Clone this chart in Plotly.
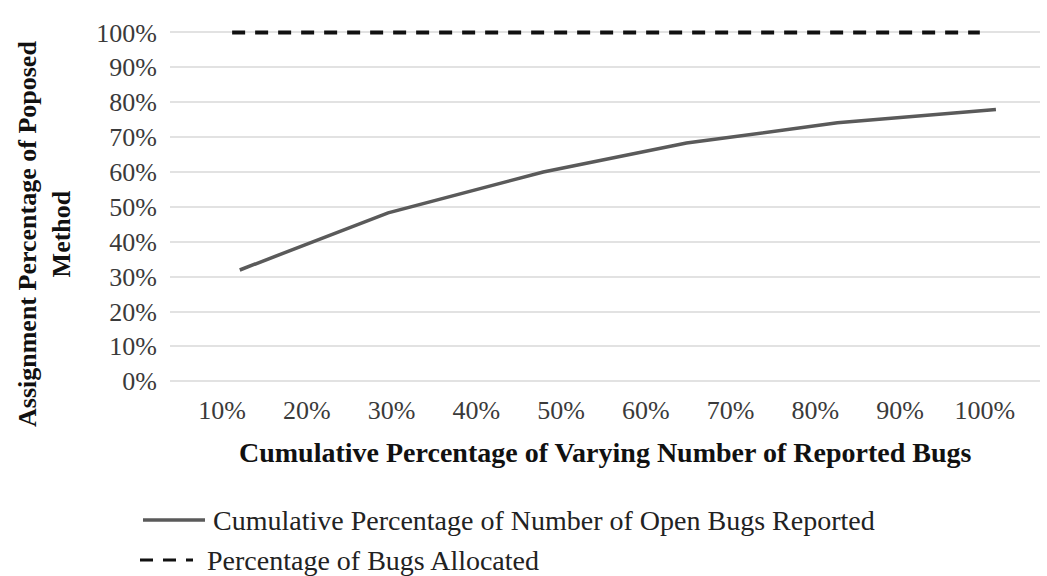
import plotly.graph_objects as go

# Axis categories (cumulative share of reported bugs)
x_tick_vals = [10, 20, 30, 40, 50, 60, 70, 80, 90, 100]
x_tick_text = ["10%", "20%", "30%", "40%", "50%", "60%", "70%", "80%", "90%", "100%"]
y_tick_vals = [0, 10, 20, 30, 40, 50, 60, 70, 80, 90, 100]
y_tick_text = ["0%", "10%", "20%", "30%", "40%", "50%", "60%", "70%", "80%", "90%", "100%"]

# Series: cumulative percentage of open bugs reported
open_bugs_x = [12.1, 29.6, 47.9, 64.8, 82.6, 101.3]
open_bugs_y = [31.9, 48.3, 60.0, 68.3, 74.1, 77.9]

# Series: percentage of bugs allocated
allocated_x = [11.2, 99.4]
allocated_y = [100, 100]

W, H = 1047, 576
M_L, M_R, M_T, M_B = 170, 7, 29, 193
X_RANGE = [3.87, 106.5]
Y_RANGE = [-0.5, 101]

SERIF = "Liberation Serif, Times New Roman, serif"
SOLID_COLOR = "#5a5a5a"
DASH_COLOR = "#111111"


def px_x(p):
    return (p - M_L) / (W - M_L - M_R)


def px_y(p):
    return (H - M_B - p) / (H - M_T - M_B)


fig = go.Figure()

fig.add_trace(go.Scatter(
    x=open_bugs_x, y=open_bugs_y, mode="lines",
    name="Cumulative Percentage of Number of Open Bugs Reported",
    line=dict(color=SOLID_COLOR, width=3.5),
    showlegend=False,
))
fig.add_trace(go.Scatter(
    x=allocated_x, y=allocated_y, mode="lines",
    name="Percentage of Bugs Allocated",
    line=dict(color=DASH_COLOR, width=4, dash="13px,10px"),
    showlegend=False,
))

annotations = [
    dict(text="<b>Assignment Percentage of Poposed<br>Method</b>",
         xref="paper", yref="paper", x=px_x(45), y=px_y(234),
         xanchor="center", yanchor="middle", textangle=-90, showarrow=False,
         font=dict(family=SERIF, size=26, color="#111111")),
    dict(text="<b>Cumulative Percentage of Varying Number of Reported Bugs</b>",
         xref="paper", yref="paper", x=px_x(605), y=px_y(452),
         xanchor="center", yanchor="middle", showarrow=False,
         font=dict(family=SERIF, size=28, color="#111111")),
    dict(text="Cumulative Percentage of Number of Open Bugs Reported",
         xref="paper", yref="paper", x=px_x(211), y=px_y(520),
         xanchor="left", yanchor="middle", showarrow=False,
         font=dict(family=SERIF, size=28, color="#222222")),
    dict(text="Percentage of Bugs Allocated",
         xref="paper", yref="paper", x=px_x(205), y=px_y(560),
         xanchor="left", yanchor="middle", showarrow=False,
         font=dict(family=SERIF, size=28, color="#222222")),
]

shapes = [
    dict(type="line", xref="paper", yref="paper",
         x0=px_x(143), x1=px_x(205), y0=px_y(520), y1=px_y(520),
         line=dict(color=SOLID_COLOR, width=3.5)),
    dict(type="line", xref="paper", yref="paper",
         x0=px_x(140), x1=px_x(193), y0=px_y(560), y1=px_y(560),
         line=dict(color=DASH_COLOR, width=3, dash="13px,10px")),
]

fig.update_layout(
    width=W, height=H,
    margin=dict(l=M_L, r=M_R, t=M_T, b=M_B),
    paper_bgcolor="white", plot_bgcolor="white",
    showlegend=False,
    annotations=annotations,
    shapes=shapes,
    xaxis=dict(
        range=X_RANGE, tickvals=x_tick_vals, ticktext=x_tick_text,
        showgrid=False, zeroline=False, showline=False,
        ticks="outside", ticklen=4, tickcolor="rgba(0,0,0,0)",
        tickfont=dict(family=SERIF, size=26, color="#3a3a3a"),
    ),
    yaxis=dict(
        range=Y_RANGE, tickvals=y_tick_vals, ticktext=y_tick_text,
        showgrid=True, gridcolor="#e2e2e2", gridwidth=2,
        zeroline=False, showline=False,
        ticks="outside", ticklen=7, tickcolor="rgba(0,0,0,0)",
        tickfont=dict(family=SERIF, size=26, color="#3a3a3a"),
    ),
)

fig.write_html("out.html")
